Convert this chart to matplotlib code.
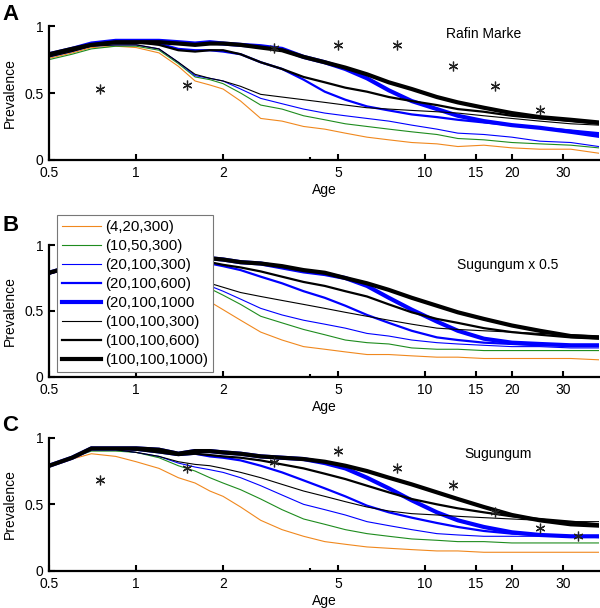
import matplotlib
matplotlib.use("Agg")
import matplotlib.pyplot as plt

plt.rcParams['font.family'] = ['Liberation Sans', 'DejaVu Sans']
plt.rcParams['font.size'] = 10

ages = [0.5, 0.6, 0.7, 0.85, 1.0, 1.2, 1.4, 1.6, 1.8, 2.0, 2.3, 2.7, 3.2, 3.8,
        4.5, 5.3, 6.3, 7.5, 9, 11, 13, 16, 20, 25, 32, 40]

labels = ['(4,20,300)', '(10,50,300)', '(20,100,300)', '(20,100,600)',
          '(20,100,1000', '(100,100,300)', '(100,100,600)', '(100,100,1000)']
colors = ['#f0881e', '#1e8c1e', '#0000ff', '#0000ff', '#0000ff', 'black', 'black', 'black']
widths = [0.8, 0.8, 0.8, 1.6, 3.0, 0.8, 1.6, 3.0]

# panel A: Rafin Marke
rafin = [
    [0.76, 0.80, 0.84, 0.85, 0.84, 0.80, 0.70, 0.59, 0.56, 0.53, 0.44, 0.31, 0.29, 0.25, 0.23, 0.20, 0.17, 0.15, 0.13, 0.12, 0.10, 0.11, 0.09, 0.08, 0.08, 0.05],
    [0.75, 0.79, 0.83, 0.85, 0.85, 0.82, 0.72, 0.62, 0.60, 0.57, 0.50, 0.41, 0.38, 0.33, 0.30, 0.27, 0.25, 0.23, 0.21, 0.19, 0.16, 0.15, 0.13, 0.12, 0.11, 0.09],
    [0.77, 0.81, 0.85, 0.86, 0.86, 0.83, 0.73, 0.63, 0.61, 0.59, 0.53, 0.46, 0.42, 0.38, 0.35, 0.33, 0.31, 0.29, 0.26, 0.23, 0.20, 0.19, 0.17, 0.14, 0.13, 0.10],
    [0.79, 0.83, 0.86, 0.88, 0.88, 0.87, 0.83, 0.82, 0.82, 0.81, 0.79, 0.73, 0.68, 0.60, 0.51, 0.45, 0.40, 0.37, 0.34, 0.32, 0.30, 0.28, 0.26, 0.24, 0.22, 0.20],
    [0.79, 0.83, 0.87, 0.89, 0.89, 0.89, 0.88, 0.87, 0.88, 0.87, 0.86, 0.85, 0.83, 0.77, 0.73, 0.68, 0.61, 0.52, 0.44, 0.38, 0.33, 0.29, 0.26, 0.24, 0.21, 0.18],
    [0.77, 0.81, 0.85, 0.86, 0.86, 0.83, 0.73, 0.64, 0.61, 0.59, 0.55, 0.49, 0.47, 0.45, 0.43, 0.41, 0.39, 0.38, 0.37, 0.36, 0.35, 0.33, 0.31, 0.29, 0.27, 0.26],
    [0.78, 0.82, 0.86, 0.88, 0.88, 0.86, 0.82, 0.81, 0.82, 0.82, 0.79, 0.73, 0.68, 0.62, 0.58, 0.54, 0.51, 0.47, 0.44, 0.41, 0.38, 0.36, 0.33, 0.31, 0.29, 0.27],
    [0.79, 0.83, 0.86, 0.88, 0.88, 0.88, 0.87, 0.86, 0.87, 0.87, 0.86, 0.84, 0.82, 0.77, 0.73, 0.69, 0.64, 0.58, 0.53, 0.47, 0.43, 0.39, 0.35, 0.32, 0.30, 0.28],
]

# panel B: Sugungum x 0.5
sug_half = [
    [0.78, 0.82, 0.86, 0.87, 0.85, 0.80, 0.72, 0.64, 0.57, 0.51, 0.43, 0.34, 0.28, 0.23, 0.21, 0.19, 0.17, 0.17, 0.16, 0.15, 0.15, 0.14, 0.14, 0.14, 0.14, 0.13],
    [0.78, 0.83, 0.88, 0.89, 0.88, 0.84, 0.78, 0.72, 0.67, 0.62, 0.55, 0.46, 0.41, 0.36, 0.32, 0.28, 0.26, 0.25, 0.22, 0.21, 0.21, 0.20, 0.20, 0.20, 0.20, 0.20],
    [0.78, 0.83, 0.88, 0.89, 0.88, 0.85, 0.79, 0.74, 0.69, 0.65, 0.59, 0.52, 0.47, 0.43, 0.40, 0.37, 0.33, 0.31, 0.28, 0.26, 0.25, 0.24, 0.23, 0.23, 0.22, 0.22],
    [0.79, 0.84, 0.89, 0.90, 0.90, 0.89, 0.88, 0.87, 0.86, 0.84, 0.81, 0.76, 0.71, 0.65, 0.60, 0.54, 0.47, 0.41, 0.35, 0.30, 0.28, 0.26, 0.25, 0.24, 0.24, 0.24],
    [0.79, 0.84, 0.89, 0.91, 0.91, 0.91, 0.90, 0.90, 0.90, 0.89, 0.87, 0.86, 0.83, 0.80, 0.78, 0.75, 0.69, 0.60, 0.51, 0.42, 0.35, 0.29, 0.26, 0.25, 0.24, 0.24],
    [0.78, 0.83, 0.88, 0.89, 0.88, 0.85, 0.80, 0.75, 0.71, 0.68, 0.64, 0.61, 0.58, 0.55, 0.52, 0.49, 0.46, 0.43, 0.40, 0.37, 0.36, 0.35, 0.34, 0.33, 0.32, 0.31],
    [0.79, 0.84, 0.89, 0.90, 0.90, 0.89, 0.88, 0.88, 0.87, 0.85, 0.83, 0.80, 0.76, 0.72, 0.69, 0.65, 0.61, 0.55, 0.49, 0.44, 0.41, 0.37, 0.34, 0.32, 0.30, 0.29],
    [0.79, 0.84, 0.89, 0.91, 0.91, 0.91, 0.90, 0.90, 0.90, 0.89, 0.87, 0.86, 0.84, 0.81, 0.79, 0.75, 0.71, 0.66, 0.60, 0.54, 0.49, 0.44, 0.39, 0.35, 0.31, 0.30],
]

# panel C: Sugungum
sug = [
    [0.78, 0.84, 0.88, 0.86, 0.82, 0.77, 0.70, 0.66, 0.60, 0.56, 0.48, 0.38, 0.31, 0.26, 0.22, 0.20, 0.18, 0.17, 0.16, 0.15, 0.15, 0.14, 0.14, 0.14, 0.14, 0.14],
    [0.79, 0.85, 0.90, 0.90, 0.89, 0.85, 0.79, 0.75, 0.70, 0.66, 0.61, 0.54, 0.46, 0.39, 0.35, 0.31, 0.28, 0.26, 0.24, 0.23, 0.22, 0.22, 0.21, 0.21, 0.21, 0.21],
    [0.79, 0.85, 0.91, 0.91, 0.89, 0.86, 0.81, 0.78, 0.76, 0.74, 0.70, 0.64, 0.57, 0.50, 0.46, 0.42, 0.37, 0.34, 0.31, 0.28, 0.27, 0.26, 0.26, 0.26, 0.26, 0.25],
    [0.79, 0.85, 0.92, 0.92, 0.91, 0.89, 0.87, 0.88, 0.86, 0.85, 0.83, 0.79, 0.74, 0.68, 0.62, 0.56, 0.49, 0.44, 0.40, 0.36, 0.33, 0.30, 0.28, 0.27, 0.26, 0.26],
    [0.79, 0.85, 0.92, 0.92, 0.92, 0.91, 0.88, 0.90, 0.90, 0.89, 0.88, 0.86, 0.85, 0.84, 0.81, 0.77, 0.70, 0.62, 0.53, 0.44, 0.38, 0.33, 0.29, 0.27, 0.26, 0.26],
    [0.79, 0.85, 0.91, 0.91, 0.89, 0.86, 0.82, 0.80, 0.79, 0.77, 0.74, 0.70, 0.65, 0.60, 0.56, 0.52, 0.48, 0.45, 0.43, 0.42, 0.41, 0.40, 0.39, 0.38, 0.37, 0.37],
    [0.79, 0.85, 0.92, 0.92, 0.91, 0.89, 0.87, 0.88, 0.87, 0.86, 0.85, 0.83, 0.80, 0.77, 0.73, 0.69, 0.64, 0.59, 0.54, 0.50, 0.47, 0.44, 0.41, 0.39, 0.37, 0.35],
    [0.79, 0.85, 0.92, 0.92, 0.92, 0.91, 0.88, 0.90, 0.90, 0.89, 0.88, 0.86, 0.85, 0.84, 0.82, 0.79, 0.75, 0.70, 0.65, 0.59, 0.54, 0.48, 0.42, 0.38, 0.35, 0.34],
]

# observed prevalence (stars)
rafin_age = [0.75, 1.5, 3, 5, 8, 12.5, 17.5, 25]
rafin_obs = [0.53, 0.56, 0.84, 0.86, 0.86, 0.70, 0.555, 0.375]
sug_age = [0.75, 1.5, 3, 5, 8, 12.5, 17.5, 25, 34]
sug_obs = [0.68, 0.77, 0.82, 0.90, 0.77, 0.645, 0.44, 0.325, 0.26]

xticks = [0.5, 1, 2, 5, 10, 15, 20, 30]
xticklabels = ['0.5', '1', '2', '5', '10', '15', '20', '30']

fig = plt.figure(figsize=(6.0, 6.08), dpi=100)
boxes = [[0.082, 0.737, 0.916, 0.220],
         [0.082, 0.380, 0.916, 0.217],
         [0.082, 0.061, 0.916, 0.219]]
panels = [rafin, sug_half, sug]
names = ['Rafin Marke', 'Sugungum x 0.5', 'Sugungum']
name_pos = [(16, 0.94), (19.4, 0.85), (17.9, 0.875)]
letters = ['A', 'B', 'C']
letter_y = [1.085, 1.15, 1.095]
stars = [(rafin_age, rafin_obs), None, (sug_age, sug_obs)]

for i in range(3):
    ax = fig.add_axes(boxes[i])
    for k in range(8):
        ax.plot(ages, panels[i][k], color=colors[k], lw=widths[k], label=labels[k])
    if stars[i] is not None:
        ax.plot(stars[i][0], stars[i][1], ls='none', marker=(6, 2, 0),
                ms=7, mew=0.9, color='#222222')
    ax.set_xscale('log')
    ax.set_xlim(0.5, 40)
    ax.set_ylim(0, 1)
    ax.set_xticks(xticks)
    ax.set_xticklabels(xticklabels)
    ax.set_xticks([4], minor=True)
    ax.set_xticklabels([''], minor=True)
    ax.set_yticks([0, 0.5, 1])
    ax.set_yticklabels(['0', '0.5', '1'])
    ax.spines['top'].set_visible(False)
    ax.spines['right'].set_visible(False)
    ax.spines['left'].set_linewidth(1.6)
    ax.spines['bottom'].set_linewidth(1.6)
    ax.tick_params(direction='in', length=4, width=1.5, pad=4)
    ax.tick_params(axis='x', pad=4.5)
    ax.tick_params(axis='x', which='minor', direction='in', length=2, width=1.5)
    ax.set_xlabel('Age', labelpad=2)
    ax.set_ylabel('Prevalence')
    ax.yaxis.set_label_coords(-0.058, 0.5)
    ax.text(name_pos[i][0], name_pos[i][1], names[i], ha='center', va='center')
    ax.text(-0.071, letter_y[i], letters[i], transform=ax.transAxes, fontsize=16,
            fontweight='bold', ha='center', va='center')
    if i == 1:
        leg = ax.legend(loc='upper left', bbox_to_anchor=(0.0145, 1.227),
                        fancybox=False, framealpha=1, edgecolor='#777777',
                        fontsize=10.8, handlelength=2.6, handletextpad=0.25,
                        labelspacing=0.33, borderpad=0.35, borderaxespad=0)
        leg.get_frame().set_linewidth(0.8)

fig.savefig('out.png', dpi=100)
